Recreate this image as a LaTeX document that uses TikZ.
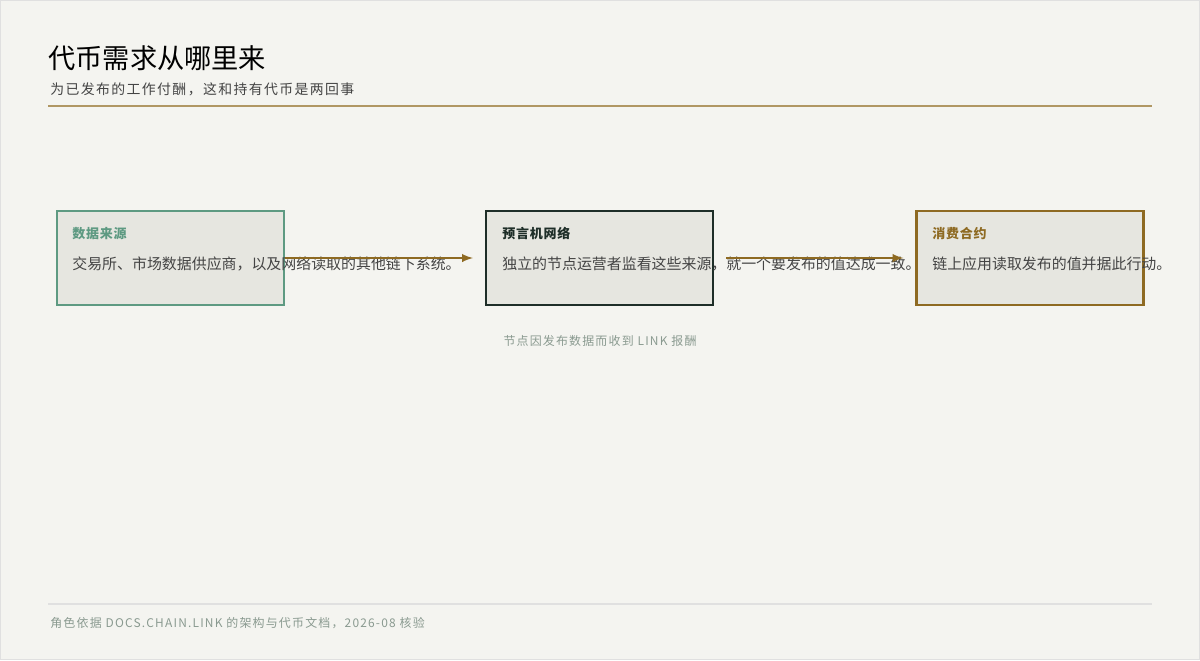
\documentclass[tikz,border=0pt]{standalone}
\usepackage{fontspec}
\setmainfont{Noto Sans CJK SC}
\newfontfamily\spaced[LetterSpace=10]{Noto Sans CJK SC}
\newfontfamily\spacedhead[LetterSpace=6]{Noto Sans CJK SC}
\usetikzlibrary{positioning}
\definecolor{bgc}{HTML}{F4F4F0}
\definecolor{boxc}{HTML}{E6E6E0}
\definecolor{srcc}{HTML}{5E9A82}
\definecolor{netc}{HTML}{1E2E28}
\definecolor{gold}{HTML}{8E6A22}
\definecolor{muted}{HTML}{8A9A90}
\definecolor{txt}{HTML}{444444}
\tikzset{
  role/.style={draw, line width=1.2pt, fill=boxc, minimum width=227*0.02cm, minimum height=94*0.02cm, inner sep=0pt},
  head/.style={anchor=west, font=\fontsize{7.4pt}{9pt}\spacedhead\bfseries, inner sep=0pt},
  body/.style={anchor=west, font=\fontsize{8.5pt}{10pt}\selectfont, text=txt, inner sep=0pt},
  flow/.style={->, >=latex, gold, line width=1.1pt}
}
\begin{document}
\begin{tikzpicture}[x=0.02cm, y=-0.02cm]
  \fill[bgc] (0,0) rectangle (1200,660);
  \useasboundingbox (0,0) rectangle (1200,660);
  \draw[black!12] (0.5,0.5) rectangle (1199.5,659.5);
  % header
  \node[anchor=west, inner sep=0pt, font=\fontsize{15.5pt}{18pt}\selectfont] (title) at (48,58) {代币需求从哪里来};
  \node[anchor=west, inner sep=0pt, font=\fontsize{7.9pt}{10pt}\spaced, text=txt] (sub) at (50,89) {为已发布的工作付酬，这和持有代币是两回事};
  \draw[gold!70, line width=0.6pt] (48,106) -- (1152,106);
  % roles
  \node[role, draw=srcc] (src) at (170.5,258) {};
  \node[role, draw=netc] (net) at (599.5,258) {};
  \node[role, draw=gold] (use) at (1030,258) {};
  \node[head, text=srcc] at (72,234) {数据来源};
  \node[body] at (72,264) {交易所、市场数据供应商，以及网络读取的其他链下系统。};
  \node[head, text=netc] at (502,234) {预言机网络};
  \node[body] at (502,264) {独立的节点运营者监看这些来源，就一个要发布的值达成一致。};
  \node[head, text=gold] at (932,234) {消费合约};
  \node[body] at (932,264) {链上应用读取发布的值并据此行动。};
  \draw[flow] (src.east) -- ([xshift=-12*0.02cm]net.west);
  \draw[flow] ([xshift=12*0.02cm]net.east) -- ([xshift=-12*0.02cm]use.west);
  \node[inner sep=0pt, font=\fontsize{6.8pt}{8pt}\spaced, text=muted] (pay) at (600,341) {节点因发布数据而收到 LINK 报酬};
  % footer
  \draw[black!12, line width=0.6pt] (48,604) -- (1152,604);
  \node[anchor=west, inner sep=0pt, font=\fontsize{6.8pt}{8pt}\spaced, text=muted] (foot) at (50,623) {角色依据 DOCS.CHAIN.LINK 的架构与代币文档，2026-08 核验};
\end{tikzpicture}
\end{document}
